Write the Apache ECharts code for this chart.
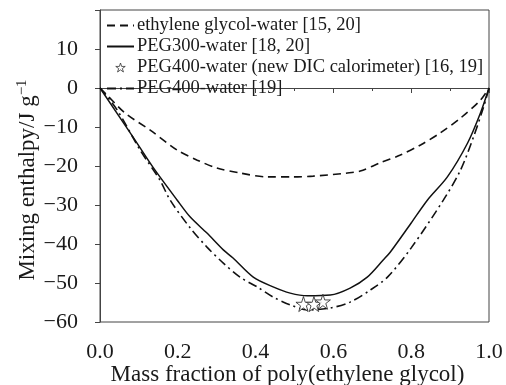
<!DOCTYPE html>
<html>
<head>
<meta charset="utf-8">
<script src="https://cdn.jsdelivr.net/npm/echarts@6/dist/echarts.min.js"></script>
<style>
  html, body { margin: 0; padding: 0; background: #fff; }
  #chart { width: 506px; height: 385px; }
</style>
</head>
<body>
<div id="chart"></div>
<script>
// mass fraction / mixing enthalpy
const egX = [0, 0.018, 0.064, 0.129, 0.198, 0.25, 0.30, 0.36, 0.43, 0.497, 0.548, 0.636, 0.669, 0.72, 0.772, 0.824, 0.875, 0.927, 0.978, 1.0];
const egY = [0, -1.8, -6.4, -10.8, -15.9, -18.5, -20.5, -21.8, -22.8, -22.8, -22.6, -21.8, -21.3, -19.2, -17.2, -14.6, -11.5, -7.7, -3.1, 0];

const peg300X = [0, 0.085, 0.136, 0.198, 0.232, 0.275, 0.317, 0.342, 0.394, 0.445, 0.489, 0.533, 0.592, 0.643, 0.687, 0.728, 0.746, 0.80, 0.842, 0.893, 0.945, 0.978, 1.0];
const peg300Y = [0, -12.6, -20.3, -28.7, -33.1, -37.2, -41.5, -43.6, -48.5, -51.0, -52.6, -53.3, -53.1, -51.3, -48.5, -44.1, -42.1, -34.6, -28.7, -22.8, -14.1, -6.4, 0];

const peg400X = [0, 0.044, 0.103, 0.154, 0.18, 0.232, 0.275, 0.317, 0.36, 0.404, 0.445, 0.489, 0.533, 0.592, 0.643, 0.695, 0.739, 0.80, 0.883, 0.927, 0.96, 0.986, 1.0];
const peg400Y = [0, -5.6, -15.9, -23.6, -28.7, -35.9, -40.8, -44.9, -48.5, -51.0, -53.6, -55.6, -56.9, -56.4, -54.9, -51.8, -48.5, -41.0, -28.7, -21.0, -12.6, -4.9, 0];

const dicX = [0.523, 0.550, 0.573];
const dicY = [-55.4, -55.4, -54.8];

const seriesNames = [
  'ethylene glycol-water [15, 20]',
  'PEG300-water [18, 20]',
  'PEG400-water (new DIC calorimeter) [16, 19]',
  'PEG400-water [19]'
];

const xTicks = { min: 0, max: 1, interval: 0.2 };
const yTicks = { min: -60, max: 20, interval: 10 };

const pair = (xs, ys) => xs.map((x, i) => [x, ys[i]]);
const star = 'path://M50,0 L61.8,35.5 L99,35.5 L69,57.5 L80.5,93 L50,71 L19.5,93 L31,57.5 L1,35.5 L38.2,35.5 Z';
const font = 'Liberation Serif';
const ink = '#1a1a1a';

// hide the symbol part of line legend icons, keep the line sample
const legendData = seriesNames.map((n, i) => i === 2
  ? { name: n, icon: star, itemStyle: { color: '#fff', borderColor: '#333', borderWidth: 1 } }
  : { name: n, itemStyle: { opacity: 0 } });

const chart = echarts.init(document.getElementById('chart'));
chart.setOption({
  animation: false,
  textStyle: { fontFamily: font, color: ink },
  grid: {
    left: 100, right: 17, top: 10, bottom: 63,
    outerBoundsMode: 'none', containLabel: false,
    show: true, borderColor: '#444', borderWidth: 1
  },
  legend: {
    orient: 'vertical',
    left: 106, top: 16, padding: 0,
    itemWidth: 27, itemHeight: 9, itemGap: 2,
    textStyle: { fontFamily: font, fontSize: 18.5, color: ink, padding: [0, 0, 0, -2] },
    data: legendData
  },
  xAxis: {
    type: 'value',
    min: xTicks.min, max: xTicks.max, interval: xTicks.interval,
    name: 'Mass fraction of poly(ethylene glycol)',
    nameLocation: 'middle', nameGap: 41, nameMoveOverlap: false,
    nameTextStyle: { fontFamily: font, fontSize: 23, color: ink, padding: [0, 14, 0, 0] },
    axisLine: { lineStyle: { color: '#444', width: 1 } },
    axisTick: { show: true, length: 5, lineStyle: { color: '#444' } },
    minorTick: { show: true, splitNumber: 2, length: 3, lineStyle: { color: '#444' } },
    splitLine: { show: false },
    axisLabel: { fontFamily: font, fontSize: 22, color: ink, margin: 19, formatter: v => v.toFixed(1) }
  },
  yAxis: {
    type: 'value',
    min: yTicks.min, max: yTicks.max, interval: yTicks.interval,
    name: 'Mixing enthalpy/J g{sup|\u22121}',
    nameLocation: 'middle', nameGap: 60, nameRotate: 90, nameMoveOverlap: false,
    nameTextStyle: {
      fontFamily: font, fontSize: 23, color: ink, padding: [0, 28, 0, 0],
      rich: { sup: { fontFamily: font, fontSize: 15, color: ink, padding: [0, 0, 10, 0] } }
    },
    axisLine: { show: true, lineStyle: { color: '#444', width: 1 } },
    axisTick: { show: true, length: 5, lineStyle: { color: '#444' } },
    splitLine: { show: false },
    axisLabel: {
      fontFamily: font, fontSize: 22, color: ink, margin: 22,
      formatter: v => v >= 20 ? '' : (v < 0 ? '\u2212' + (-v) : String(v))
    }
  },
  series: [
    {
      name: seriesNames[0], type: 'line', data: pair(egX, egY),
      smooth: 0.3, symbol: 'none',
      lineStyle: { color: '#111', width: 1.6, type: [8, 5] },
      itemStyle: { color: '#111' }
    },
    {
      name: seriesNames[1], type: 'line', data: pair(peg300X, peg300Y),
      smooth: 0.3, symbol: 'none',
      lineStyle: { color: '#111', width: 1.5, type: 'solid' },
      itemStyle: { color: '#111' }
    },
    {
      name: seriesNames[2], type: 'scatter', data: pair(dicX, dicY),
      symbol: star, symbolSize: 15, z: 5,
      itemStyle: { color: '#fff', borderColor: '#222', borderWidth: 1 }
    },
    {
      name: seriesNames[3], type: 'line', data: pair(peg400X, peg400Y),
      smooth: 0.3, symbol: 'none',
      lineStyle: { color: '#111', width: 1.6, type: [9, 4, 2, 4] },
      itemStyle: { color: '#111' }
    }
  ]
});
</script>
</body>
</html>
